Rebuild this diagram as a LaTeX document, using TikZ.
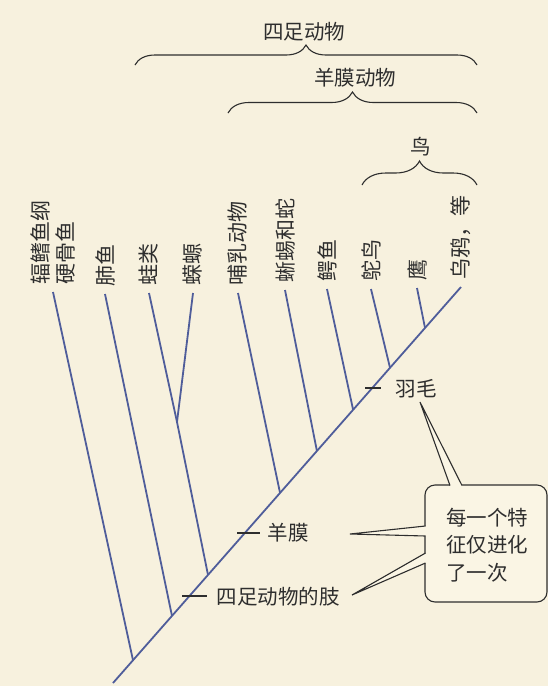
\documentclass[tikz,border=0pt]{standalone}
\usepackage{fontspec}
\setmainfont{Noto Sans CJK SC}
\usetikzlibrary{decorations.pathreplacing,calc}
\definecolor{bg}{HTML}{F7F1DE}
\definecolor{br}{HTML}{4F5D9A}
\definecolor{ink}{HTML}{2E2E2E}
\definecolor{boxbg}{HTML}{FAF5E4}
\begin{document}
\begin{tikzpicture}[x=1pt,y=1pt,
  branch/.style={draw=br,line width=1.8pt},
  leaf/.style={rotate=90,anchor=west,font=\fontsize{21}{25}\selectfont,text=ink,inner sep=0pt,outer sep=8pt,align=left},
  lbl/.style={font=\fontsize{20.5}{25}\selectfont,text=ink,inner sep=0pt},
  tickmark/.style={draw=ink,line width=1.1pt},
  grp/.style={draw=ink,line width=1.1pt,decorate,decoration={brace,amplitude=#1}},
  callout/.style={draw=ink,line width=1.1pt,fill=boxbg,rounded corners=10pt,minimum width=122pt,minimum height=117pt,inner sep=0pt},
]
\fill[bg] (0,0) rectangle (548,-686);
\useasboundingbox (0,0) rectangle (548,-686);

% trunk
\coordinate (root) at (113,-683);
\coordinate (top) at (461,-287);
\coordinate (j1) at ($(root)!0.0575!(top)$);
\coordinate (j2) at ($(root)!0.1695!(top)$);
\coordinate (j3) at ($(root)!0.273!(top)$);
\coordinate (j5) at ($(root)!0.48!(top)$);
\coordinate (j6) at ($(root)!0.586!(top)$);
\coordinate (j7) at ($(root)!0.69!(top)$);
\coordinate (j8) at ($(root)!0.796!(top)$);
\coordinate (j9) at ($(root)!0.8966!(top)$);
\coordinate (amph) at (177,-422);

% leaf labels
\node[leaf] (n1) at (53,-292) {辐鳍鱼纲\\硬骨鱼};
\node[leaf] (n2) at (105,-294) {肺鱼};
\node[leaf] (n3) at (149,-293) {蛙类};
\node[leaf] (n4) at (193,-293) {蝾螈};
\node[leaf] (n5) at (238,-293) {哺乳动物};
\node[leaf] (n6) at (285,-290) {蜥蜴和蛇};
\node[leaf] (n7) at (327,-289) {鳄鱼};
\node[leaf] (n8) at (371,-289) {鸵鸟};
\node[leaf] (n9) at (417,-288) {鹰};
\node[leaf] (n10) at (461,-287) {乌鸦，等};

% branches
\draw[branch] (root) -- (n10.west);
\draw[branch] (j1) -- (n1.west);
\draw[branch] (j2) -- (n2.west);
\draw[branch] (j3) -- (amph);
\draw[branch] (amph) -- (n3.west);
\draw[branch] (amph) -- (n4.west);
\draw[branch] (j5) -- (n5.west);
\draw[branch] (j6) -- (n6.west);
\draw[branch] (j7) -- (n7.west);
\draw[branch] (j8) -- (n8.west);
\draw[branch] (j9) -- (n9.west);

% braces
\draw[grp=20pt] (135,-65) -- (477,-65);
\node[lbl] (tetra) at (304,-32) {四足动物};
\draw[grp=21pt] (228,-113) -- (477,-113);
\node[lbl] (amnio) at (355,-78) {羊膜动物};
\draw[grp=24pt] (362,-185) -- (477,-185);
\node[lbl] (bird) at (421,-147) {鸟};

% trait marks
\node[lbl] (feather) at (416,-389) {羽毛};
\coordinate (f1) at (365,-388); \coordinate (f2) at (381,-388);
\draw[tickmark] (f1) -- (f2);
\node[lbl] (amnion) at (288,-533) {羊膜};
\coordinate (a1) at (237,-533); \coordinate (a2) at (260,-533);
\draw[tickmark] (a1) -- (a2);
\node[lbl] (limb) at (278,-597) {四足动物的肢};
\coordinate (l1) at (182,-596); \coordinate (l2) at (207,-596);
\draw[tickmark] (l1) -- (l2);

% callout
\node[callout] (box) at (486,-543.5) {};
\node[lbl,align=left,font=\fontsize{20.5}{27.5}\selectfont] (note) at (487,-545) {每一个特\\征仅进化\\了一次};
\coordinate (p1tip) at (420,-402);
\coordinate (p2tip) at (350,-534);
\coordinate (p3tip) at (352,-595);
\fill[boxbg] (450,-488) -- (450,-485) -- (p1tip) -- (462,-485) -- (462,-488) -- cycle;
\draw[ink,line width=1.1pt] (450,-485.5) -- (p1tip) -- (462,-485.5);
\fill[boxbg] (428,-526) -- (425,-526) -- (p2tip) -- (425,-536) -- (428,-536) -- cycle;
\draw[ink,line width=1.1pt] (425.5,-526) -- (p2tip) -- (425.5,-536);
\fill[boxbg] (428,-553) -- (425,-553) -- (p3tip) -- (425,-563) -- (428,-563) -- cycle;
\draw[ink,line width=1.1pt] (425.5,-553) -- (p3tip) -- (425.5,-563);
\end{tikzpicture}
\end{document}
